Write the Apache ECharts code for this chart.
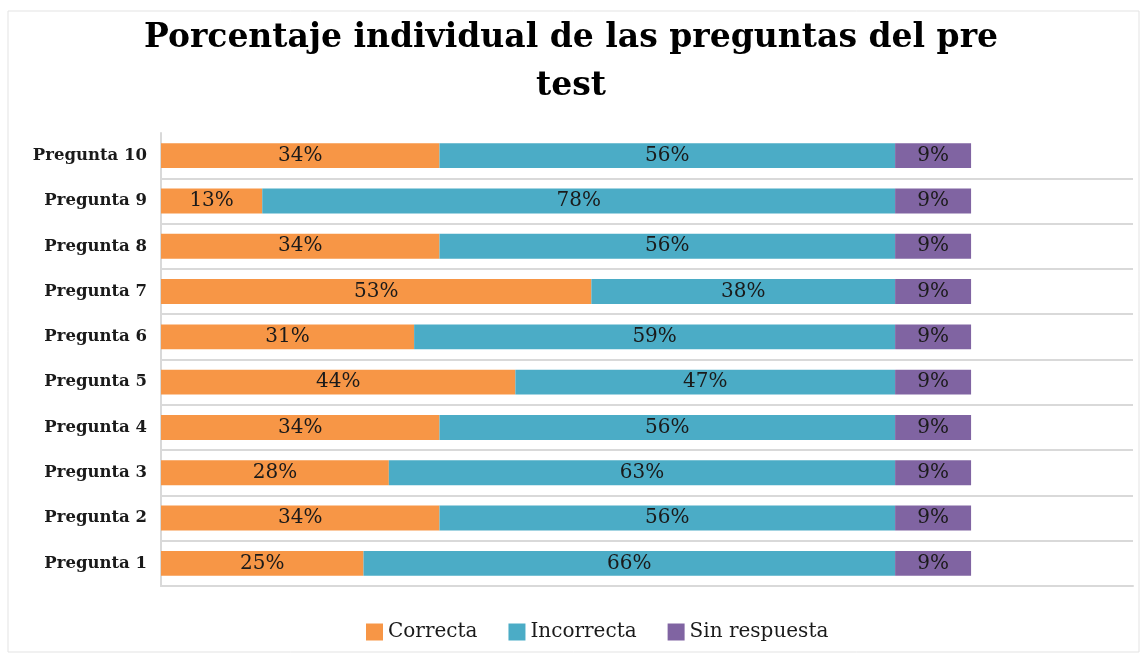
<!DOCTYPE html>
<html>
<head>
<meta charset="utf-8">
<script src="https://cdn.jsdelivr.net/npm/echarts@6/dist/echarts.min.js"></script>
<style>
  html, body { margin: 0; padding: 0; background: #fff; }
  #chart { width: 1142px; height: 655px; }
</style>
</head>
<body>
<div id="chart"></div>
<script>
// preguntas, de abajo hacia arriba
const preguntas = ['Pregunta 1', 'Pregunta 2', 'Pregunta 3', 'Pregunta 4', 'Pregunta 5',
  'Pregunta 6', 'Pregunta 7', 'Pregunta 8', 'Pregunta 9', 'Pregunta 10'];
// porcentajes (%)
const correcta = [25, 34.38, 28.13, 34.38, 43.75, 31.25, 53.13, 34.38, 12.5, 34.38];
const incorrecta = [65.63, 56.25, 62.5, 56.25, 46.88, 59.38, 37.5, 56.25, 78.13, 56.25];
const sinRespuesta = [9.38, 9.38, 9.38, 9.38, 9.38, 9.38, 9.38, 9.38, 9.38, 9.38];

const serif = '"DejaVu Serif", "Liberation Serif", serif';

const barLabel = {
  show: true,
  position: 'inside',
  color: '#1a1a1a',
  fontFamily: serif,
  fontSize: 20,
  formatter: p => Math.round(p.value) + '%'
};

function serie(name, data, color) {
  return {
    name: name,
    type: 'bar',
    stack: 'total',
    data: data,
    barCategoryGap: '45%',
    itemStyle: { color: color },
    label: barLabel
  };
}

const chart = echarts.init(document.getElementById('chart'));
chart.setOption({
  animation: false,
  title: {
    text: 'Porcentaje individual de las preguntas del pre\ntest',
    left: 'center',
    top: 9,
    textStyle: {
      fontFamily: serif,
      fontWeight: 'bold',
      fontSize: 33,
      lineHeight: 48,
      color: '#000'
    }
  },
  graphic: [{
    type: 'rect',
    shape: { x: 8, y: 11, width: 1131, height: 641 },
    style: { fill: 'none', stroke: '#e3e3e3', lineWidth: 1 },
    silent: true
  }],
  legend: {
    top: 617,
    left: 361,
    icon: 'rect',
    itemWidth: 17,
    itemHeight: 17,
    itemGap: 31,
    textStyle: { fontFamily: serif, fontSize: 20, color: '#1a1a1a' }
  },
  grid: { left: 161, right: 9, top: 133, bottom: 69 },
  xAxis: {
    type: 'value',
    min: 0,
    max: 120,
    axisLabel: { show: false },
    axisTick: { show: false },
    splitLine: { show: false },
    axisLine: { show: true, lineStyle: { color: '#d9d9d9', width: 2 } }
  },
  yAxis: {
    type: 'category',
    data: preguntas,
    axisTick: { show: false },
    axisLine: { show: true, lineStyle: { color: '#d9d9d9', width: 2 } },
    axisLabel: {
      margin: 14,
      fontFamily: serif,
      fontWeight: 'bold',
      fontSize: 16.5,
      color: '#1a1a1a'
    },
    splitLine: {
      show: true,
      showMaxLine: false,
      lineStyle: { color: '#d9d9d9', width: 2 }
    }
  },
  series: [
    serie('Correcta', correcta, '#F79646'),
    serie('Incorrecta', incorrecta, '#4BACC6'),
    serie('Sin respuesta', sinRespuesta, '#8064A2')
  ]
});
</script>
</body>
</html>
